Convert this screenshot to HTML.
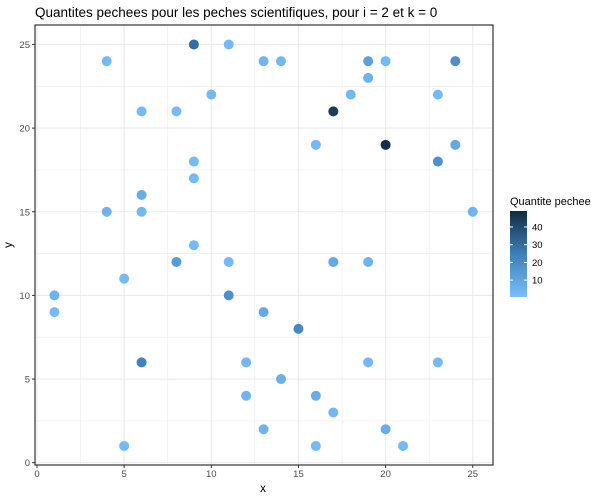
<!DOCTYPE html>
<html><head><meta charset="utf-8"><style>
body{margin:0;background:#fff;}
svg{display:block;font-family:"Liberation Sans",Arial,sans-serif;}
</style></head><body>
<svg id="chart" width="600" height="500">
<text x="35" y="17" font-size="13.5" fill="#000">Quantites pechees pour les peches scientifiques, pour i = 2 et k = 0</text>
<g id="grid"></g>
<g id="points"></g>
<rect x="35" y="25" width="458" height="440" fill="none" stroke="#333" stroke-width="1.2"/>
<g id="axes"></g>
<text x="263" y="492" font-size="11.5" text-anchor="middle">x</text>
<text x="12" y="245" font-size="11.5" text-anchor="middle" transform="rotate(-90 12 245)">y</text>
<g id="legend">
<text x="510" y="205" font-size="11">Quantite pechee</text>
<defs><linearGradient id="grad" x1="0" y1="1" x2="0" y2="0">
<stop offset="0" stop-color="#79BEFA"/><stop offset="0.5" stop-color="#3D7FB8"/><stop offset="1" stop-color="#132B43"/></linearGradient></defs>
<rect x="510" y="211" width="17" height="86" fill="url(#grad)"/>
</g>
</svg>
<script>
const xs=[9,11,4,13,14,19,20,24,19,10,18,23,6,8,17,16,20,24,9,23,9,6,4,6,25,9,8,11,17,19,5,1,11,1,13,15,6,12,19,23,14,12,16,17,13,20,16,21,5];
const ys=[25,25,24,24,24,24,24,24,23,22,22,22,21,21,21,19,19,19,18,18,17,16,15,15,15,13,12,12,12,12,11,10,10,9,9,8,6,6,6,6,5,4,4,3,2,2,1,1,1];
const vals=[30,2,2,4,3,12,2,18,5,2,3,2,2,2,44,2,48,9,2,18,2,7,5,3,4,2,14,2,9,5,2,5,18,2,9,21,23,3,2,2,6,4,7,3,5,7,2,2,2];
const xTicks=[0,5,10,15,20,25];
const yTicks=[0,5,10,15,20,25];
const legendTicks=[10,20,30,40];
const NS='http://www.w3.org/2000/svg';
const X=v=>37+v*17.43, Y=v=>462.7-v*16.73;
const vMin=0.5,vMax=49;
const L=v=>297-(v-vMin)/(vMax-vMin)*86;
function col(v){const t=Math.max(0,Math.min(1,(v-vMin)/(vMax-vMin)));
const a=[0x79,0xBE,0xFA],m=[0x3D,0x7F,0xB8],b=[0x13,0x2B,0x43];
let c;if(t<0.5){const s=t*2;c=a.map((q,i)=>q+(m[i]-q)*s);}else{const s=(t-0.5)*2;c=m.map((q,i)=>q+(b[i]-q)*s);}
return 'rgb('+c.map(Math.round).join(',')+')';}
function mk(tag,at,p){const e=document.createElementNS(NS,tag);for(const k in at)e.setAttribute(k,at[k]);p.appendChild(e);return e;}
const grid=document.getElementById('grid');
for(let v=0;v<=25;v+=2.5){
const g1=mk('line',{x1:X(v),x2:X(v),y1:25,y2:465,stroke:'#ebebeb','stroke-width':v%5===0?1.1:0.6},grid);


const g2=mk('line',{x1:35,x2:493,y1:Y(v),y2:Y(v),stroke:'#ebebeb','stroke-width':v%5===0?1.1:0.6},grid);

}
const axes=document.getElementById('axes');
xTicks.forEach(t=>{mk('line',{x1:X(t),x2:X(t),y1:465,y2:468,stroke:'#333'},axes);
const tx=mk('text',{x:X(t),y:477,'font-size':9.5,fill:'#4d4d4d','text-anchor':'middle'},axes);tx.textContent=t;

});
yTicks.forEach(t=>{mk('line',{x1:32,x2:35,y1:Y(t),y2:Y(t),stroke:'#333'},axes);
const tx=mk('text',{x:30,y:Y(t)+3.5,'font-size':9.5,fill:'#4d4d4d','text-anchor':'end'},axes);tx.textContent=t;

});
const pts=document.getElementById('points');
xs.forEach((x,i)=>{const c=mk('circle',{cx:X(x),cy:Y(ys[i]),r:5,fill:col(vals[i])},pts);

});
const lg=document.getElementById('legend');
legendTicks.forEach(t=>{mk('line',{x1:510,x2:513,y1:L(t),y2:L(t),stroke:'#fff'},lg);mk('line',{x1:524,x2:527,y1:L(t),y2:L(t),stroke:'#fff'},lg);
const tx=mk('text',{x:532,y:L(t)+3.5,'font-size':9.5,fill:'#000'},lg);tx.textContent=t;

});
</script>
</body></html>
